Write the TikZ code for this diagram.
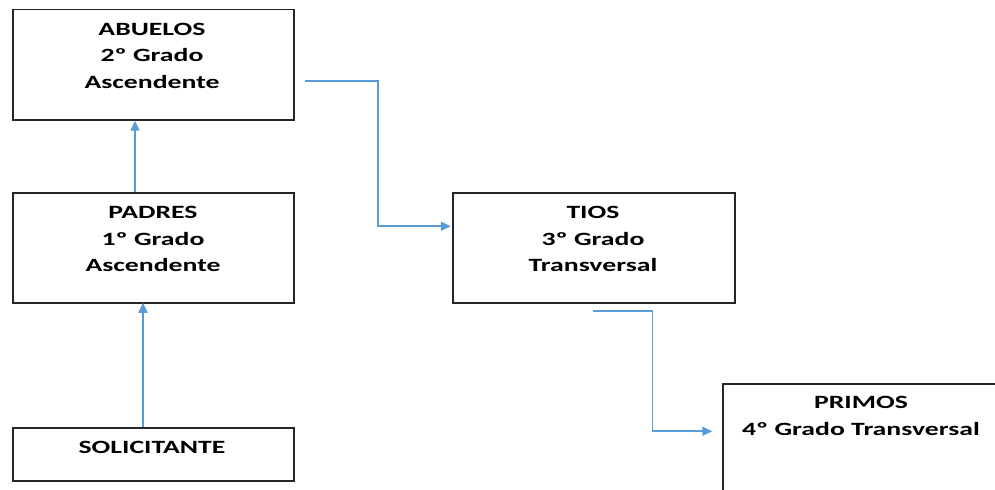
\documentclass[tikz,border=0pt]{standalone}
\usepackage{fontspec}
\newfontfamily\boxfont{Carlito}[FakeStretch=1.48]
\usetikzlibrary{arrows.meta,calc}
\definecolor{linkblue}{HTML}{5B9BD5}
\definecolor{boxline}{HTML}{262626}
\begin{document}
\begin{tikzpicture}[x=1bp,y=-1bp,
  boxnode/.style={draw=boxline,line width=1.5bp,rectangle,inner sep=0pt,minimum width=281bp,minimum height=#1},
  boxtext/.style={anchor=north,align=center,inner sep=0pt,font=\boxfont\bfseries\fontsize{18.8}{26.6}\selectfont},
  link/.style={draw=linkblue,line width=1.6bp,-{Triangle[length=10bp,width=9bp]}}]
\useasboundingbox (0,0) rectangle (995,490);
\clip (0,0) rectangle (995,490);
% boxes
\node[boxnode=110.5bp] (abuelos) at (153.5,64.75) {};
\node[boxnode=110bp] (padres) at (153.5,248) {};
\node[boxnode=53bp] (solic) at (153.5,454.5) {};
\node[boxnode=110bp,minimum width=282bp] (tios) at (594,248) {};
\node[boxnode=110bp,minimum width=282bp] (primos) at (864,439) {};
% texts
\node[boxtext] (abuelosT) at ($(abuelos.north)+(-1.5,13.8)$) {ABUELOS\\2º Grado\\Ascendente};
\node[boxtext] (padresT) at ($(padres.north)+(-0.5,14)$) {PADRES\\1º Grado\\Ascendente};
\node[boxtext] (solicT) at ($(solic.north)+(-1.5,14)$) {SOLICITANTE};
\node[boxtext] (tiosT) at ($(tios.north)+(-1,14)$) {TIOS\\3º Grado\\Transversal};
\node[boxtext] (primosT) at ($(primos.north)+(-3,13.2)$) {PRIMOS\\4º Grado Transversal};
% connectors
\draw[link] ($(solic.north)+(-10.5,0)$) -- ($(padres.south)+(-10.5,-1)$);
\draw[link] ($(padres.north)+(-18.5,0)$) -- ($(abuelos.south)+(-18.5,0)$);
\coordinate (a1) at ($(abuelos.north east)+(10,72.5)$);
\coordinate (t1) at ($(tios.north west)+(-1.5,34)$);
\draw[link] (a1) -| ($(a1)!0.5!(t1)+(0.5,0)$) |- (t1);
\coordinate (t2) at ($(tios.south)+(-1,7)$);
\coordinate (p1) at ($(primos.north west)+(-10,48)$);
\draw[link] (t2) -| ($(t2)!0.5!(p1)+(0,0)$) |- (p1);
\end{tikzpicture}
\end{document}
